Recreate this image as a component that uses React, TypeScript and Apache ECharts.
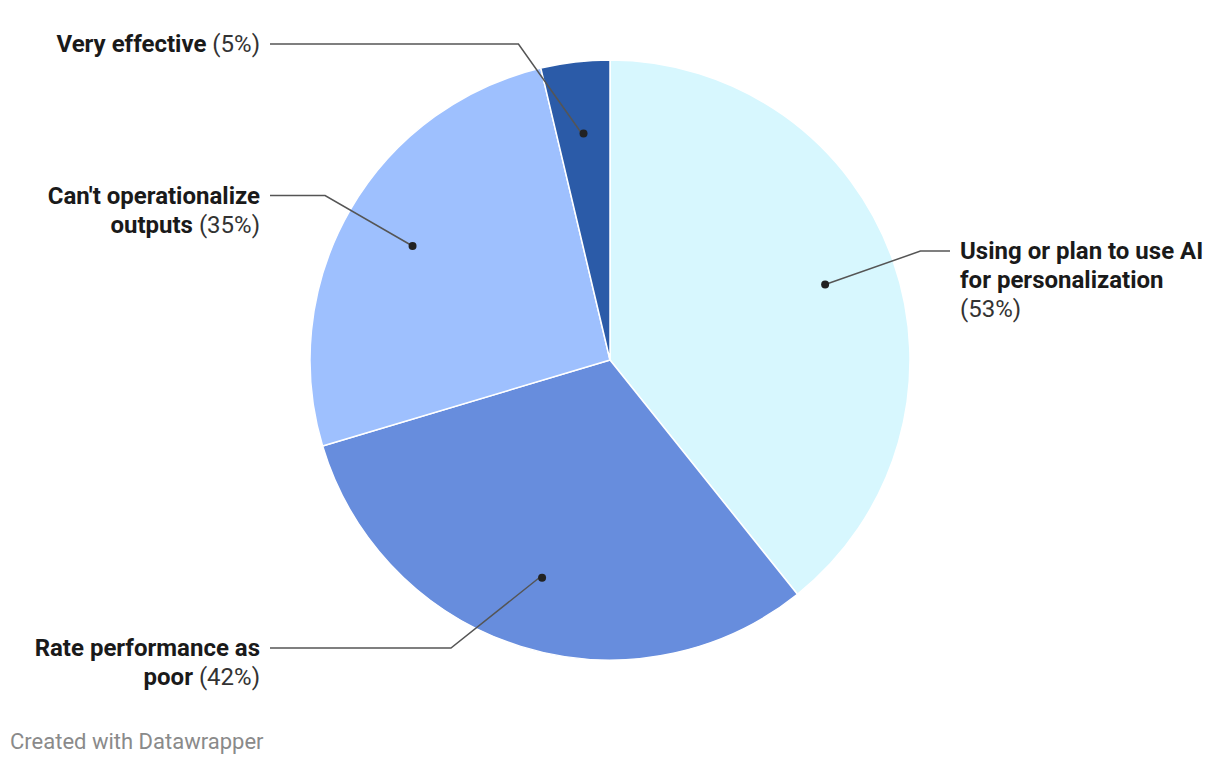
import React, { useEffect, useRef } from "react";
import * as echarts from "echarts";

// ---- data ----
const categories: string[] = [
  "Using or plan to use AI for personalization",
  "Rate performance as poor",
  "Can't operationalize outputs",
  "Very effective",
];
const values: number[] = [53, 42, 35, 5];
const colors: string[] = ["#d7f7fe", "#678ddd", "#9ec0fe", "#2b5ba8"];
const footerText = "Created with Datawrapper";

// ---- layout constants ----
const W = 1220;
const H = 766;
const CX = 610;
const CY = 360;
const R = 300;
const DOT_R = 225;
const ELBOW_R = 329;
const LINE_END = 340;
const LABEL_GAP = 10;
const LABEL_Y_MIN = 44;
const LABEL_Y_MAX = 648;
const FONT = 24;
const LINE_H = 29;
const WRAP = 245;
const FONT_FAMILY = "Roboto, 'Noto Sans', sans-serif";

function wrapLabel(name: string, value: number): string {
  const canvas = document.createElement("canvas");
  const ctx = canvas.getContext("2d")!;
  const measure = (s: string, bold: boolean) => {
    ctx.font = `${bold ? "bold " : ""}${FONT}px Roboto`;
    return ctx.measureText(s).width;
  };
  const tokens = name.split(" ").map((t) => ({ t, bold: true }));
  tokens.push({ t: `(${value}%)`, bold: false });
  const lines: { t: string; bold: boolean }[][] = [];
  let cur: { t: string; bold: boolean }[] = [];
  let width = 0;
  for (const tok of tokens) {
    const w = measure(tok.t, tok.bold);
    const sp = cur.length ? measure(" ", tok.bold) : 0;
    if (cur.length && width + sp + w > WRAP) {
      lines.push(cur);
      cur = [tok];
      width = w;
    } else {
      cur.push(tok);
      width += sp + w;
    }
  }
  if (cur.length) lines.push(cur);
  return lines
    .map((line) => {
      const segs: { text: string; bold: boolean }[] = [];
      line.forEach((tok) => {
        const last = segs[segs.length - 1];
        if (last && last.bold === tok.bold) last.text += " " + tok.t;
        else segs.push({ text: tok.t, bold: tok.bold });
      });
      return segs
        .map((s, k) => `{${s.bold ? "b" : "r"}|${k > 0 ? " " : ""}${s.text}}`)
        .join("");
    })
    .join("\n");
}

export default function App() {
  const ref = useRef<HTMLDivElement>(null);

  useEffect(() => {
    if (!ref.current) return;
    const chart = echarts.init(ref.current, undefined, { renderer: "svg" });

    const total = values.reduce((a, b) => a + b, 0);
    const midAngles: number[] = [];
    let cum = 0;
    values.forEach((v) => {
      midAngles.push(((cum + v / 2) / total) * Math.PI * 2);
      cum += v;
    });

    const richFor = (align: string) => ({
      b: {
        fontFamily: FONT_FAMILY,
        fontSize: FONT,
        fontWeight: "bold",
        color: "#1a1a1a",
        lineHeight: LINE_H,
        align,
      },
      r: {
        fontFamily: FONT_FAMILY,
        fontSize: FONT,
        fontWeight: "normal",
        color: "#333333",
        lineHeight: LINE_H,
        align,
      },
    });

    const labelData = categories.map((name, i) => {
      const side = Math.sin(midAngles[i]) >= 0 ? "left" : "right";
      return {
        name,
        value: values[i],
        label: {
          formatter: wrapLabel(name, values[i]),
          align: side,
          rich: richFor(side),
        },
      };
    });

    const option: any = {
      animation: false,
      backgroundColor: "#ffffff",
      series: [
        {
          type: "pie",
          z: 2,
          center: [CX, CY],
          radius: [0, R],
          startAngle: 90,
          clockwise: true,
          silent: true,
          itemStyle: { borderColor: "#ffffff", borderWidth: 1.5 },
          label: { show: false },
          labelLine: { show: false },
          emphasis: { disabled: true },
          data: categories.map((name, i) => ({
            name,
            value: values[i],
            itemStyle: { color: colors[i] },
          })),
        },
        {
          type: "pie",
          z: 3,
          center: [CX, CY],
          radius: [0, R],
          startAngle: 90,
          clockwise: true,
          avoidLabelOverlap: false,
          silent: true,
          itemStyle: { color: "rgba(0,0,0,0)", borderWidth: 0 },
          label: { show: true, position: "outside" },
          labelLine: {
            show: true,
            length: 20,
            length2: 20,
            smooth: false,
            lineStyle: { color: "#555555", width: 1.5 },
          },
          labelLayout: (p: any) => {
            const a = midAngles[p.dataIndex];
            const s = Math.sin(a);
            const c = Math.cos(a);
            const side = s >= 0 ? 1 : -1;
            const dot = [CX + DOT_R * s, CY - DOT_R * c];
            let ey = CY - ELBOW_R * c;
            ey = Math.max(LABEL_Y_MIN, Math.min(LABEL_Y_MAX, ey));
            const ex =
              CX + side * Math.sqrt(Math.max(0, ELBOW_R * ELBOW_R - (ey - CY) * (ey - CY)));
            const endX = CX + side * LINE_END;
            return {
              x: CX + side * (LINE_END + LABEL_GAP),
              y: ey - LINE_H / 2,
              align: side > 0 ? "left" : "right",
              verticalAlign: "top",
              labelLinePoints: [dot, [ex, ey], [endX, ey]],
            };
          },
          emphasis: { disabled: true },
          data: labelData,
        },
        {
          type: "pie",
          z: 4,
          center: [CX, CY],
          radius: [2 * DOT_R - R, R],
          startAngle: 90,
          clockwise: true,
          silent: true,
          itemStyle: { color: "rgba(0,0,0,0)", borderWidth: 0 },
          label: {
            show: true,
            position: "inside",
            formatter: "{d| }",
            rich: {
              d: {
                width: 8,
                height: 8,
                borderRadius: 4,
                backgroundColor: "#222222",
                fontSize: 1,
              },
            },
          },
          labelLine: { show: false },
          emphasis: { disabled: true },
          data: categories.map((name, i) => ({ name, value: values[i] })),
        },
      ],
      graphic: [
        {
          type: "text",
          left: 10,
          top: 730,
          style: {
            text: footerText,
            fill: "#8a8a8a",
            fontSize: 22,
            fontFamily: FONT_FAMILY,
          },
        },
      ],
    };

    chart.setOption(option);
    return () => chart.dispose();
  }, []);

  return (
    <div
      ref={ref}
      style={{ position: "absolute", left: 0, top: 0, width: W, height: H }}
    />
  );
}
